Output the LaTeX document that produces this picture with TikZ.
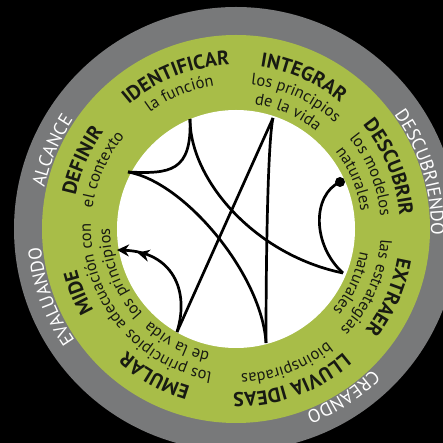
\documentclass[tikz,border=0pt]{standalone}
\usepackage{fontspec}
\setmainfont{PT Sans}
\usetikzlibrary{arrows.meta,decorations.text,decorations.markings}
\definecolor{ringgrey}{RGB}{120,121,122}
\definecolor{leafgreen}{RGB}{168,189,72}
\definecolor{inkdark}{RGB}{24,26,18}
\pgfdeclareradialshading{innershadow}{\pgfpoint{0bp}{0bp}}{color(0bp)=(white); color(40bp)=(white); color(46bp)=(black!13); color(50bp)=(black!48)}
\newcommand{\bigword}{\color{inkdark}\bfseries\fontsize{20}{20}\selectfont}
\newcommand{\smallword}{\color{inkdark}\fontsize{16.5}{16.5}\selectfont}
\newcommand{\outerword}{\color{white}\fontsize{18.5}{18.5}\selectfont}
% text on a clockwise arc: radius, middle angle, format, text
\newcommand{\ringtext}[4]{%
  \path[decorate,decoration={text along path,text align=center,text={|#3|#4}}]
    ({#2+40}:#1pt) arc[start angle=#2+40,end angle=#2-40,radius=#1pt];}
\tikzset{
  stroke/.style={line width=2.7pt,black},
  headtip/.style={-{Stealth[length=12pt,width=12pt]}},
  midhead/.style={postaction={decorate},decoration={markings,
      mark=at position 0.83 with {\arrow{Stealth[length=12pt,width=12pt]}}}},
}

\begin{document}
\begin{tikzpicture}[x=1pt,y=1pt]
  \useasboundingbox (-236,-214) rectangle (207,229);
  \fill[black] (-236,-214) rectangle (207,229);
  \fill[ringgrey] (0,0) circle[radius=222pt];
  \fill[leafgreen] (0,0) circle[radius=194pt];
  \shade[shading=innershadow] (0,0) circle[radius=119pt];

  % outer ring
  \ringtext{196}{157}{\outerword}{ALCANCE}
  \ringtext{195}{17}{\outerword}{DESCUBRIENDO}
  \ringtext{196}{-57.5}{\outerword}{CREANDO}
  \ringtext{196}{200}{\outerword}{EVALUANDO}

  % green ring
  \ringtext{164}{111.5}{\bigword}{IDENTIFICAR}
  \ringtext{145}{112.5}{\smallword}{la función}
  \ringtext{164}{66}{\bigword}{INTEGRAR}
  \ringtext{145}{65.5}{\smallword}{los principios}
  \ringtext{126}{66}{\smallword}{de la vida}
  \ringtext{164}{22}{\bigword}{DESCUBRIR}
  \ringtext{145}{22}{\smallword}{los modelos}
  \ringtext{126}{23}{\smallword}{naturales}
  \ringtext{164}{-24}{\bigword}{EXTRAER}
  \ringtext{145}{-24}{\smallword}{las estrategias}
  \ringtext{126}{-25}{\smallword}{naturales}
  \ringtext{164}{-70}{\bigword}{LLUVIA IDEAS}
  \ringtext{145}{-69.5}{\smallword}{bioinspiradas}
  \ringtext{164}{-119}{\bigword}{EMULAR}
  \ringtext{145}{-118}{\smallword}{los principios}
  \ringtext{126}{-117.5}{\smallword}{de la vida}
  \ringtext{164}{202}{\bigword}{MIDE}
  \ringtext{145}{199.5}{\smallword}{adecuación con}
  \ringtext{126}{201}{\smallword}{los principios}
  \ringtext{164}{156}{\bigword}{DEFINIR}
  \ringtext{145}{156}{\smallword}{el contexto}

  % inner lines
  \coordinate (cuspTop) at (-46,110);
  \coordinate (leftTip) at (-108,57);
  \coordinate (apex) at (37,111);
  \coordinate (rightTip) at (107,-44);
  \coordinate (baseE) at (30,-114);
  \coordinate (baseD) at (-59,-103);
  \coordinate (dotEnd) at (104,47);
  \coordinate (arrowEnd) at (-119,-21);

  \draw[stroke] (cuspTop) .. controls (-44,57) and (-66,55) .. (leftTip);
  \draw[stroke] (cuspTop) .. controls (-46,49) and (19,-26) .. (rightTip);
  \draw[stroke] (leftTip) .. controls (-51,47) and (26,-46) .. (baseE);
  \draw[stroke] (apex) -- (baseD);
  \draw[stroke] (apex) .. controls (32,89) and (30,-21) .. (baseE);
  \draw[stroke] (dotEnd) .. controls (76,34) and (76,-16) .. (rightTip);
  \fill (dotEnd) circle[radius=5pt];
  \draw[stroke,headtip,midhead] (baseD) .. controls (-46,-61) and (-64,-23) .. (arrowEnd);
\end{tikzpicture}
\end{document}
